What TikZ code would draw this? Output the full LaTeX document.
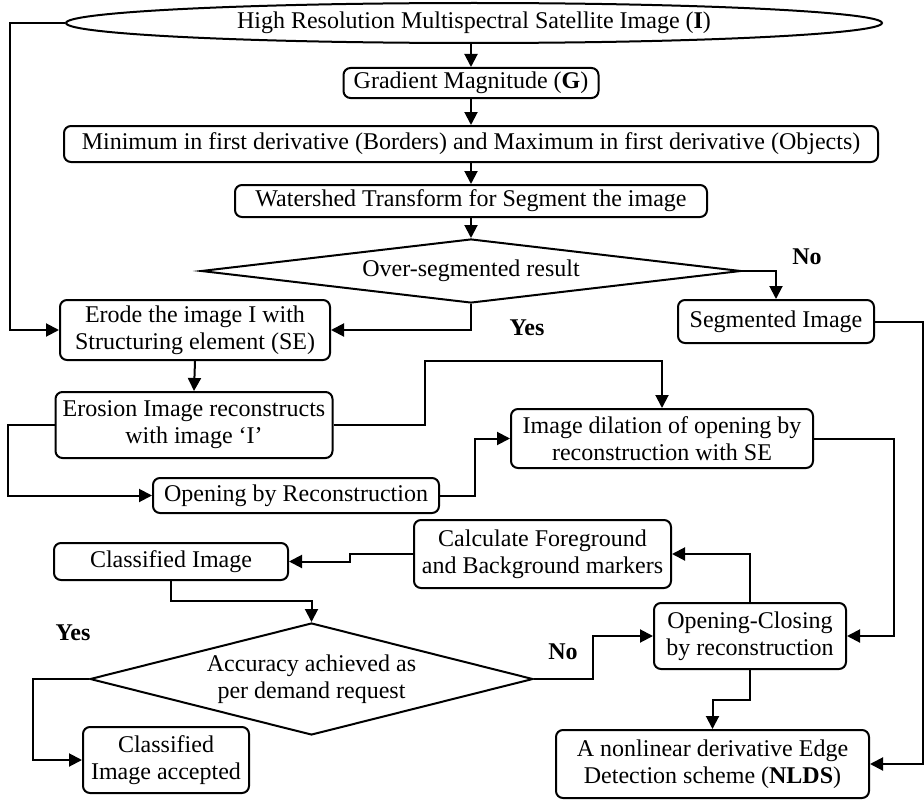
\documentclass[tikz,border=0pt]{standalone}
\usepackage{fontspec}
\setmainfont{Liberation Serif}
\usetikzlibrary{shapes.geometric,arrows.meta}
\begin{document}
\begin{tikzpicture}[x=1pt,y=-1pt,
  font=\fontsize{24}{27}\selectfont,
  sz/.style 2 args={minimum width=#1pt,minimum height=#2pt},
  box/.style={draw,rounded corners=7pt,line width=2pt,align=center,inner sep=0pt},
  dec/.style={draw,diamond,line width=2pt,align=center,inner sep=0pt},
  arr/.style={line width=2pt,-{Triangle[length=13pt,width=13pt]}},
  lbl/.style={font=\fontsize{24}{27}\selectfont\bfseries}]
\useasboundingbox (0,0) rectangle (924,800);

% processing chain
\node[draw,ellipse,line width=2pt,sz={816}{40},inner sep=0pt] (img) at (474,23)
  {High Resolution Multispectral Satellite Image (\textbf{I})};
\node[box,sz={255}{30}] (grad) at (471,83) {Gradient Magnitude (\textbf{G})};
\node[box,sz={814}{36}] (minmax) at (471,144)
  {Minimum in first derivative (Borders) and Maximum in first derivative (Objects)};
\node[box,sz={472}{32}] (water) at (471,201) {Watershed Transform for Segment the image};
\node[dec,sz={540}{64},shape aspect=8.4] (over) at (471,271) {Over-segmented result};
\node[box,sz={196}{43}] (seg) at (776,321.5) {Segmented Image};
\node[box,sz={270}{60}] (erode) at (195,330) {Erode the image I with\\Structuring element (SE)};
\node[box,sz={277}{66}] (erosion) at (194,425) {Erosion Image reconstructs\\with image ‘I’};
\node[box,sz={302}{59}] (dil) at (662,438.5) {Image dilation of opening by\\reconstruction with SE};
\node[box,sz={286}{35}] (open) at (296,495.5) {Opening by Reconstruction};
\node[box,sz={257}{68}] (calc) at (542.5,554) {Calculate Foreground\\and Background markers};
\node[box,sz={234}{37}] (cls) at (171,561.5) {Classified Image};
\node[dec,sz={443}{112},shape aspect=3.9] (acc) at (311.5,679) {Accuracy achieved as\\per demand request};
\node[box,sz={192}{66}] (oc) at (750,636) {Opening-Closing\\by reconstruction};
\node[box,sz={313}{68}] (nlds) at (712.5,764) {A nonlinear derivative Edge\\Detection scheme (\textbf{NLDS})};
\node[box,sz={166}{66}] (acpt) at (166,760) {Classified\\Image accepted};

% branch labels
\node[lbl] (no1) at (807,257) {No};
\node[lbl] (yes1) at (527,328) {Yes};
\node[lbl] (yes2) at (73,633) {Yes};
\node[lbl] (no2) at (563,652) {No};

% connectors
\draw[arr] (grad.north |- img.south) -- (grad.north);
\draw[arr] (grad.south) -- (minmax.north);
\draw[arr] (minmax.south) -- (water.north);
\draw[arr] (water.south) -- (over.north);
\draw[arr] (img.west) -- ++(-55,0) |- (erode.west);
\draw[arr] (over.east) -| (seg.north);
\draw[arr] (over.south) |- (erode.east);
\draw[arr] (seg.east) -- ++(48,0) |- (nlds.east);
\draw[arr] (erode.south) -- (erosion.north);
\draw[arr] (erosion.east) -- ++(91,0) |- ([yshift=47pt]dil.north) -- (dil.north);
\draw[arr] (erosion.west) -- ++(-47,0) |- (open.west);
\draw[arr] (open.east) -- ++(35,0) |- (dil.west);
\draw[arr] (dil.east) -- ++(80,0) |- (oc.east);
\draw[arr] (oc.north) |- (calc.east);
\draw[arr] (calc.west) -- ++(-63,0) |- (cls.east);
\draw[arr] (cls.south) -- ++(0,20) -| (acc.north);
\draw[arr] (acc.west) -- ++(-56,0) |- (acpt.west);
\draw[arr] (acc.east) -- ++(59,0) |- (oc.west);
\draw[arr] (oc.south) -- ++(0,30) -| (nlds.north);
\end{tikzpicture}
\end{document}
